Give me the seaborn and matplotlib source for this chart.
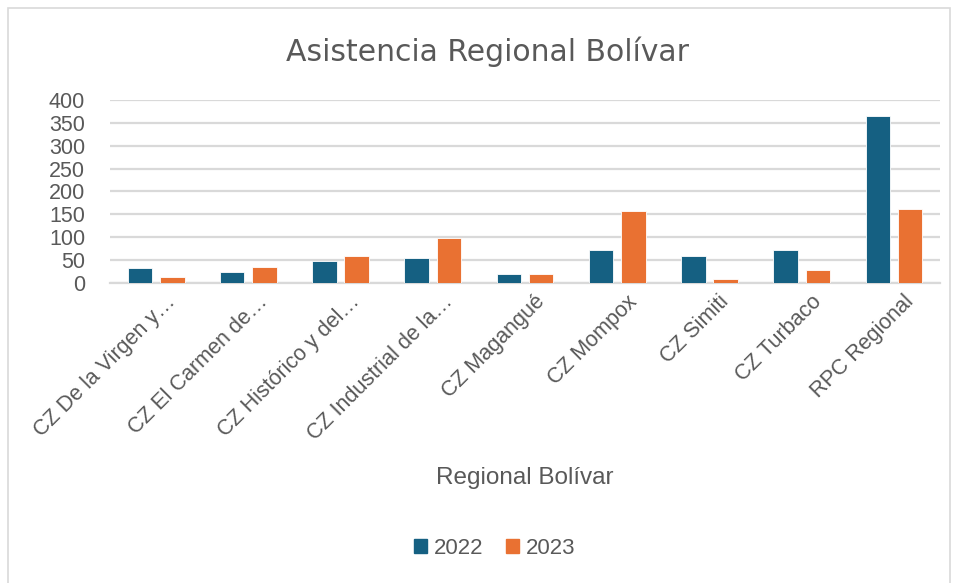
import pandas as pd
import matplotlib
matplotlib.use("Agg")
import matplotlib.pyplot as plt
import matplotlib.transforms as mtransforms
import seaborn as sns
from matplotlib.patches import Rectangle

# data
categorias = ["CZ De la Virgen y…", "CZ El Carmen de…", "CZ Histórico y del…",
              "CZ Industrial de la…", "CZ Magangué", "CZ Mompox", "CZ Simiti",
              "CZ Turbaco", "RPC Regional"]
valores_2022 = [33, 24, 47, 55, 19, 72, 58, 72, 366]
valores_2023 = [13, 36, 58, 98, 19, 158, 8, 28, 161]
anios = ["2022", "2023"]
colores = ["#156082", "#E97132"]
yticks = [0, 50, 100, 150, 200, 250, 300, 350, 400]

df = pd.DataFrame({
    "Regional": categorias * 2,
    "Año": [anios[0]] * len(categorias) + [anios[1]] * len(categorias),
    "Valor": valores_2022 + valores_2023,
})

sns.set_theme(style="white")
plt.rcParams['font.family'] = ['Liberation Sans', 'DejaVu Sans']
texto = "#595959"
grid_c = "#D9D9D9"

fig = plt.figure(figsize=(9.6, 5.83), dpi=100)
ax = fig.add_axes([0.1146, 0.5146, 0.8646, 0.3139])

sns.barplot(data=df, x="Regional", y="Valor", hue="Año", palette=colores,
            saturation=1, width=0.70, gap=0.24, ax=ax, edgecolor="white",
            linewidth=0.6, legend=False, zorder=3)

ax.set_ylim(0, 400)
ax.set_yticks(yticks)
ax.set_xlim(-0.5, len(categorias) - 0.5)
ax.yaxis.grid(True, color=grid_c, linewidth=1.6, zorder=0)
ax.set_axisbelow(True)
for s in ["top", "right", "left"]:
    ax.spines[s].set_visible(False)
ax.spines["bottom"].set_color(grid_c)
ax.spines["bottom"].set_linewidth(1.6)
ax.tick_params(axis="y", length=0, colors=texto, labelsize=15.5, pad=18)
ax.tick_params(axis="x", length=0, colors=texto, labelsize=15.5, pad=6)
ax.set_xticks(range(len(categorias)))
ax.set_xticklabels(categorias, rotation=45, ha="right", rotation_mode="anchor")
# desplazar un poco las etiquetas a la derecha, como en Excel
shift = mtransforms.ScaledTranslation(9 / 100, 0, fig.dpi_scale_trans)
for lbl in ax.get_xticklabels():
    lbl.set_transform(lbl.get_transform() + shift)
ax.set_ylabel("")
ax.set_xlabel("")

fig.text(525 / 960, 1 - 478 / 583, "Regional Bolívar", ha="center",
         va="center", fontsize=17.5, color=texto)
fig.text(0.5 + 8 / 960, 0.911, "Asistencia Regional Bolívar", ha="center",
         va="center", fontsize=21.5, color=texto, family="DejaVu Sans")

handles = [Rectangle((0, 0), 1, 1, color=c) for c in colores]
fig.legend(handles, anios, loc="center", bbox_to_anchor=(0.515, 0.06), ncol=2,
           frameon=False, fontsize=16, labelcolor=texto, handlelength=0.6,
           handleheight=0.6, handletextpad=0.3, columnspacing=1.0)

# marco del gráfico
fig.patches.append(Rectangle((8 / 960, -0.01), 942 / 960, 1 - 8 / 583 + 0.01,
                             transform=fig.transFigure, fill=False,
                             edgecolor="#D9D9D9", linewidth=1.2))

fig.savefig("out.png", dpi=100)
